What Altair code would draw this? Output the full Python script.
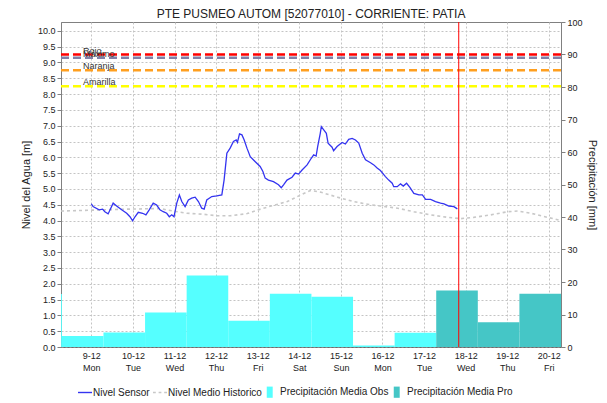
import altair as alt
import pandas as pd

FONT = "Liberation Sans"
TXT = "#222222"

# ---------------- data ----------------
sensor_time = [
    "2024-12-09T00:00", "2024-12-09T01:00", "2024-12-09T04:30", "2024-12-09T06:30", "2024-12-09T07:48", "2024-12-09T09:42",
    "2024-12-09T12:36", "2024-12-09T14:36", "2024-12-09T17:30", "2024-12-09T20:24", "2024-12-09T22:18", "2024-12-09T23:48",
    "2024-12-10T01:12", "2024-12-10T03:06", "2024-12-10T05:36", "2024-12-10T07:30", "2024-12-10T09:24", "2024-12-10T11:42",
    "2024-12-10T13:42", "2024-12-10T15:36", "2024-12-10T17:30", "2024-12-10T19:30", "2024-12-10T21:00", "2024-12-10T22:24",
    "2024-12-10T23:42",
    "2024-12-11T01:18", "2024-12-11T02:48", "2024-12-11T04:12", "2024-12-11T06:06", "2024-12-11T08:00", "2024-12-11T09:54",
    "2024-12-11T11:54", "2024-12-11T13:48", "2024-12-11T15:42", "2024-12-11T17:06", "2024-12-11T18:36", "2024-12-11T21:30",
    "2024-12-12T00:24", "2024-12-12T03:18", "2024-12-12T04:36", "2024-12-12T05:36", "2024-12-12T06:12", "2024-12-12T08:06",
    "2024-12-12T10:00", "2024-12-12T11:36", "2024-12-12T12:18", "2024-12-12T13:30", "2024-12-12T14:54", "2024-12-12T16:12",
    "2024-12-12T17:48", "2024-12-12T19:42", "2024-12-12T22:36",
    "2024-12-13T01:24", "2024-12-13T03:00", "2024-12-13T04:18", "2024-12-13T06:12", "2024-12-13T09:06", "2024-12-13T12:00",
    "2024-12-13T13:36", "2024-12-13T14:54", "2024-12-13T16:54", "2024-12-13T19:48", "2024-12-13T21:42", "2024-12-13T23:36",
    "2024-12-14T01:36", "2024-12-14T04:30", "2024-12-14T06:54", "2024-12-14T08:18", "2024-12-14T09:42", "2024-12-14T10:36",
    "2024-12-14T12:06", "2024-12-14T12:42", "2024-12-14T14:06", "2024-12-14T15:36", "2024-12-14T16:36", "2024-12-14T18:54",
    "2024-12-14T19:48", "2024-12-14T21:48",
    "2024-12-15T00:42", "2024-12-15T02:36", "2024-12-15T04:30", "2024-12-15T06:30", "2024-12-15T08:24", "2024-12-15T10:18",
    "2024-12-15T12:18", "2024-12-15T14:12", "2024-12-15T17:06", "2024-12-15T19:00", "2024-12-15T20:54", "2024-12-15T22:48",
    "2024-12-16T01:42", "2024-12-16T03:36", "2024-12-16T05:36", "2024-12-16T06:30", "2024-12-16T08:30", "2024-12-16T10:24",
    "2024-12-16T12:00", "2024-12-16T13:54", "2024-12-16T15:48", "2024-12-16T18:06", "2024-12-16T21:00", "2024-12-16T23:00",
    "2024-12-17T00:54", "2024-12-17T03:48", "2024-12-17T06:36", "2024-12-17T09:30", "2024-12-17T11:30", "2024-12-17T14:18",
    "2024-12-17T17:12", "2024-12-17T19:12",
]
sensor_level = [
    4.53, 4.44, 4.34, 4.36, 4.28, 4.21, 4.55, 4.46, 4.34, 4.23, 4.12, 3.99,
    4.12, 4.26, 4.23, 4.18, 4.34, 4.55, 4.49, 4.34, 4.28, 4.23, 4.12, 4.18, 4.12,
    4.55, 4.81, 4.60, 4.44, 4.65, 4.71, 4.74, 4.60, 4.39, 4.36, 4.65, 4.76,
    4.78, 4.81, 5.28, 5.81, 6.13, 6.29, 6.50, 6.55, 6.47, 6.74, 6.71, 6.55, 6.29, 6.02, 5.86,
    5.71, 5.55, 5.34, 5.28, 5.23, 5.13, 5.04, 5.13, 5.28, 5.37, 5.50, 5.47,
    5.60, 5.76, 5.97, 6.08, 6.04, 6.34, 6.76, 6.97, 6.87, 6.76, 6.45, 6.32, 6.21, 6.34,
    6.47, 6.42, 6.57, 6.60, 6.55, 6.45, 6.13, 5.92, 5.83, 5.76, 5.66, 5.58,
    5.39, 5.28, 5.18, 5.07, 5.07, 5.16, 5.09, 5.18, 5.05, 4.86, 4.81, 4.81,
    4.67, 4.67, 4.60, 4.55, 4.53, 4.46, 4.44, 4.37,
]

hist_time = [
    "2024-12-08T06:30", "2024-12-09T01:00", "2024-12-09T20:30", "2024-12-10T15:36", "2024-12-10T23:06", "2024-12-11T07:12",
    "2024-12-11T16:30", "2024-12-12T00:36", "2024-12-12T08:06", "2024-12-12T17:54", "2024-12-12T23:42", "2024-12-13T07:12",
    "2024-12-13T17:06", "2024-12-14T02:18", "2024-12-14T06:24", "2024-12-14T12:06", "2024-12-14T22:00", "2024-12-15T07:12",
    "2024-12-15T17:06", "2024-12-15T22:48", "2024-12-16T08:42", "2024-12-16T18:00", "2024-12-17T03:48", "2024-12-17T13:36",
    "2024-12-17T21:06", "2024-12-18T04:36", "2024-12-18T14:30", "2024-12-19T00:18", "2024-12-19T06:06", "2024-12-19T13:36",
    "2024-12-19T23:24", "2024-12-20T07:00",
]
hist_level = [
    4.30, 4.33, 4.36, 4.38, 4.30, 4.23, 4.20, 4.15, 4.15, 4.22, 4.33, 4.45,
    4.60, 4.85, 4.95, 4.90, 4.74, 4.60, 4.50, 4.46, 4.39, 4.28, 4.18, 4.10,
    4.06, 4.10, 4.18, 4.28, 4.30, 4.23, 4.10, 4.00,
]

obs_start = ["2024-12-07T07:00", "2024-12-08T07:00", "2024-12-09T07:00", "2024-12-10T07:00", "2024-12-11T07:00",
             "2024-12-12T07:00", "2024-12-13T07:00", "2024-12-14T07:00", "2024-12-15T07:00", "2024-12-16T07:00"]
obs_mm = [16.3, 3.4, 4.5, 10.6, 22.0, 8.1, 16.4, 15.5, 0.5, 4.4]

pro_start = ["2024-12-17T07:00", "2024-12-18T07:00", "2024-12-19T07:00"]
pro_mm = [17.4, 7.6, 16.4]

thr_names = ["Máximo", "Rojo", "Naranja", "Amarilla"]
thr_values = [9.15, 9.25, 8.75, 8.25]
thr_colors = ["#8080A8", "#FF0000", "#FF9F1F", "#FFFF00"]

now_time = ["2024-12-17T20:00"]

series_names = ["Nivel Sensor", "Nivel Medio Historico", "Precipitación Media Obs", "Precipitación Media Pro"]
series_colors = ["#3434F0", "#C8C8C8", "#55FFFF", "#45C6C6"]
series_shapes = [
    "M-1,-0.1H1V0.1H-1Z",
    "M-1,-0.1H-0.6V0.1H-1ZM-0.2,-0.1H0.2V0.1H-0.2ZM0.6,-0.1H1V0.1H0.6Z",
    "M-0.75,-0.8H0.1V0.8H-0.75Z",
    "M-0.75,-0.8H0.1V0.8H-0.75Z",
]

day_ticks = list(range(9, 21))

# ---------------- tables ----------------
sensor_df = pd.DataFrame({"t": pd.to_datetime(sensor_time), "v": sensor_level})
hist_df = pd.DataFrame({"t": pd.to_datetime(hist_time), "v": hist_level})
obs_df = pd.DataFrame({"t": pd.to_datetime(obs_start), "mm": obs_mm})
obs_df["t2"] = obs_df["t"] + pd.Timedelta(days=1)
pro_df = pd.DataFrame({"t": pd.to_datetime(pro_start), "mm": pro_mm})
pro_df["t2"] = pro_df["t"] + pd.Timedelta(days=1)
thr_df = pd.DataFrame({"name": thr_names, "v": thr_values, "c": thr_colors})
now_df = pd.DataFrame({"t": pd.to_datetime(now_time)})
legend_df = pd.DataFrame({"serie": series_names})

# ---------------- scales / axes ----------------
GRID = dict(grid=True, gridColor="#C4C4C4", gridDash=[2, 2], gridWidth=1)

x_scale = alt.Scale(domain=[alt.DateTime(year=2024, month=12, date=8, hours=6, minutes=30),
                            alt.DateTime(year=2024, month=12, date=20, hours=7)])
x_axis = alt.Axis(
    values=[alt.DateTime(year=2024, month=12, date=d) for d in day_ticks],
    labelExpr="[timeFormat(datum.value, '%-d-%m'), timeFormat(datum.value, '%a')]",
    title=None, tickSize=0, labelPadding=4, labelLineHeight=12, labelFontSize=9,
    domainColor="#555555", domainDash=[1, 1], labelAlign="center", **GRID,
)


def X(field="t"):
    return alt.X(f"{field}:T", scale=x_scale, axis=x_axis)


left_scale = alt.Scale(domain=[0, 10.28], nice=False, zero=True)
left_axis = alt.Axis(
    orient="left", values=[i * 0.5 for i in range(21)], format=".1f", title="Nivel del Agua [m]",
    labelFontSize=9, tickSize=4, labelPadding=2, titlePadding=6, titleFontSize=11, titleFontWeight="normal",
    domainColor="#808080", tickColor="#808080", **GRID,
)


def YL(field="v"):
    return alt.Y(f"{field}:Q", scale=left_scale, axis=left_axis)


right_scale = alt.Scale(domain=[0, 100], nice=False)
right_axis = alt.Axis(
    orient="right", values=list(range(0, 101, 10)), title="Precipitación [mm]",
    labelFontSize=9, tickSize=4, labelPadding=2, titlePadding=4, titleFontSize=11, titleFontWeight="normal",
    domainColor="#808080", tickColor="#808080", grid=False,
)


def YR(field="mm"):
    return alt.Y(f"{field}:Q", scale=right_scale, axis=right_axis)


color_scale = alt.Scale(domain=series_names, range=series_colors)
shape_scale = alt.Scale(domain=series_names, range=series_shapes)

legend_props = dict(
    title=None, orient="none", legendX=17, legendY=363, direction="horizontal",
    labelFont=FONT, labelFontSize=10, labelColor=TXT, symbolSize=196, symbolStrokeWidth=0,
    labelOffset=1, columnPadding=3, padding=0,
)

# ---------------- right (precipitation) group ----------------
obs_bars = alt.Chart(obs_df).mark_bar(clip=True, color=series_colors[2]).encode(
    x=X("t"), x2="t2:T", y=YR("mm"), y2=alt.datum(0),
)
pro_bars = alt.Chart(pro_df).mark_bar(clip=True, color=series_colors[3]).encode(
    x=X("t"), x2="t2:T", y=YR("mm"), y2=alt.datum(0),
)
right_group = alt.layer(obs_bars, pro_bars)

# ---------------- left (level) group ----------------
thr_rules = alt.Chart(thr_df).mark_rule(strokeDash=[8, 4], strokeWidth=2.5).encode(
    y=YL("v"), stroke=alt.Stroke("c:N", scale=None),
)
thr_text = alt.Chart(thr_df).mark_text(
    align="left", baseline="alphabetic", dy=-1, fontSize=9, font=FONT, color="#333333",
).encode(x=alt.value(22), y=YL("v"), text="name:N")

hist_line = alt.Chart(hist_df).mark_line(strokeWidth=1.6, strokeDash=[3, 3], color=series_colors[1]).encode(
    x=X("t"), y=YL("v"),
)
sensor_line = alt.Chart(sensor_df).mark_line(strokeWidth=1.3, color=series_colors[0]).encode(
    x=X("t"), y=YL("v"),
)
now_rule = alt.Chart(now_df).mark_rule(color="#FF0000", strokeWidth=1).encode(x=X("t"))

legend_layer = alt.Chart(legend_df).mark_point(filled=True, opacity=1).encode(
    color=alt.Color("serie:N", scale=color_scale, legend=alt.Legend(**legend_props)),
    shape=alt.Shape("serie:N", scale=shape_scale, legend=alt.Legend(**legend_props)),
).transform_filter("false")

left_group = alt.layer(thr_rules, thr_text, hist_line, sensor_line, now_rule, legend_layer)

chart = alt.layer(right_group, left_group).resolve_scale(y="independent").properties(
    width=500, height=325,
    autosize=alt.AutoSizeParams(type="none"),
    padding={"left": 53, "top": 14, "right": 38, "bottom": 51},
    title=alt.TitleParams(
        "PTE PUSMEO AUTOM  [52077010] - CORRIENTE: PATIA",
        fontSize=12, font=FONT, fontWeight="normal", color=TXT, anchor="middle", offset=1, dy=4,
    ),
).configure(font=FONT, background="white").configure_view(
    stroke="#808080", strokeWidth=1
).configure_axis(labelFont=FONT, titleFont=FONT, labelColor=TXT, titleColor=TXT)

chart.save("out.html", embed_options={"renderer": "svg", "actions": False})
